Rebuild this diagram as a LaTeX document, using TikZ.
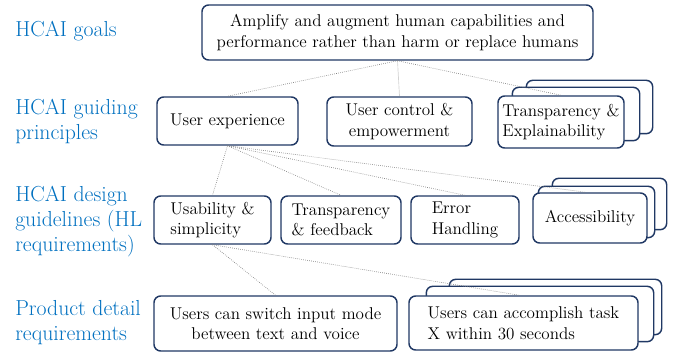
\documentclass[tikz,border=0pt]{standalone}
\usetikzlibrary{backgrounds}
\definecolor{navy}{RGB}{32,56,100}
\definecolor{levelblue}{RGB}{0,112,192}
\tikzset{
  card/.style={draw=navy, line width=1.1pt, rounded corners=5pt, fill=white},
  box/.style={card, align=center, inner sep=2pt, font=\fontsize{12.8}{15.5}\selectfont},
  level/.style={anchor=north west, align=left, inner sep=0pt, text=levelblue, font=\fontsize{16.3}{18.75}\selectfont},
  link/.style={densely dotted, gray, line width=0.5pt}
}
\begin{document}
\begin{tikzpicture}[x=0.75pt,y=-0.75pt]
\useasboundingbox (0,0) rectangle (676,356);

\node[level] (goals) at (15,20.5) {HCAI goals};
\node[level] (principles) at (15,98.5) {HCAI guiding\\principles};
\node[level] (guidelines) at (15,185.5) {HCAI design\\guidelines (HL\\requirements)};
\node[level] (details) at (15,300.5) {Product detail\\requirements};

\node[box, minimum width=293.25pt, minimum height=41.25pt] (goal) at (397.5,32.5) {Amplify and augment human capabilities and\\performance rather than harm or replace humans};

\node[box, minimum width=105.75pt, minimum height=36pt] (ux) at (227.5,121) {User experience};
\node[box, minimum width=108.75pt, minimum height=36.75pt] (control) at (399.5,121.5) {User control \&\\empowerment};
\node[box, align=left, minimum width=94.5pt, minimum height=39pt] (explain) at (561,122) {Transparency \&\\Explainability};

\node[box, align=left, minimum width=87.75pt, minimum height=36pt] (usability) at (212.5,220) {Usability \&\\simplicity};
\node[box, align=left, minimum width=90pt, minimum height=36pt] (feedback) at (341,220) {Transparency\\\& feedback};
\node[box, align=left, minimum width=81pt, minimum height=36pt] (error) at (465,220) {Error\\Handling};
\node[box, minimum width=85.5pt, minimum height=37.5pt] (access) at (590,218) {Accessibility};

\node[box, minimum width=182.25pt, minimum height=41.25pt] (switch) at (275.5,323.5) {Users can switch input mode\\between text and voice};
\node[box, align=left, minimum width=171.75pt, minimum height=40.5pt] (task) at (523.5,323) {Users can accomplish task\\X within 30 seconds};

\begin{scope}[on background layer]
\draw[card] ([shift={(29,-15)}]explain.south west) rectangle ([shift={(28,-15)}]explain.north east);
\draw[card] ([shift={(15,-8)}]explain.south west) rectangle ([shift={(15,-8)}]explain.north east);
\draw[card] ([shift={(20,-14)}]access.south west) rectangle ([shift={(19,-14)}]access.north east);
\draw[card] ([shift={(6,-6)}]access.south west) rectangle ([shift={(7,-6)}]access.north east);
\draw[card] ([shift={(41,-16)}]task.south west) rectangle ([shift={(23,-16)}]task.north east);
\draw[card] ([shift={(18,-9)}]task.south west) rectangle ([shift={(15,-9)}]task.north east);
\end{scope}

\draw[link] (goal.south) -- (ux.north);
\draw[link] (goal.south) -- (control.north);
\draw[link] (goal.south) -- (explain.north);

\draw[link] (ux.south) -- (usability.north);
\draw[link] (ux.south) -- (feedback.north);
\draw[link] (ux.south) -- (error.north);
\draw[link] (ux.south) -- ([xshift=-3]access.north);

\draw[link] (usability.south) -- (switch.north);
\draw[link] (usability.south) -- ([xshift=-3]task.north);
\end{tikzpicture}
\end{document}
